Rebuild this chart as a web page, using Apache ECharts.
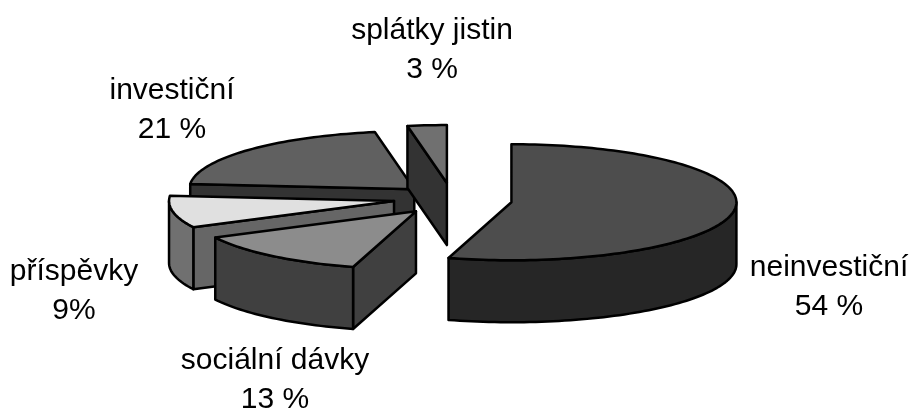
<!DOCTYPE html>
<html>
<head>
<meta charset="utf-8">
<style>html,body{margin:0;padding:0;background:#fff}#c{width:910px;height:408px}</style>
<script src="https://cdn.jsdelivr.net/npm/echarts@6/dist/echarts.min.js"></script>
</head>
<body>
<div id="c"></div>
<script>
const categories = ['neinvestiční', 'sociální dávky', 'příspěvky', 'investiční', 'splátky jistin'];
const values = [54.4, 13, 8.9, 20.7, 2.8];
const valueTexts = ['54 %', '13 %', '9%', '21 %', '3 %'];

const topColors = ['#4d4d4d', '#8c8c8c', '#e0e0e0', '#606060', '#707070'];
const arcColors = ['#262626', '#404040', '#707070', '#404040', '#404040'];
const cutColors = ['#262626', '#404040', '#666666', '#333333', '#333333'];
const drawRank = [5, 4, 3, 1, 2];
const labelAnchors = [[829, 287], [275, 380], [74, 291], [172, 110], [432, 50]];
const sliceNudge = [[2, 0], [1, -1], [-1, -2], [5, 0], [0, -1]];

const CX = 452, CY = 200, RX = 225, RY = 58, DEPTH = 62, EX = 58, EY = 16;
const total = values.reduce((a, b) => a + b, 0);
const rad = d => d * Math.PI / 180;

function renderSlice(params, api) {
  const i = params.dataIndex;
  let before = 0;
  for (let k = 0; k < i; k++) before += values[k];
  const a = before / total * 360;
  const b = a + api.value(0) / total * 360;
  const mid = rad((a + b) / 2);
  const ox = CX + EX * Math.sin(mid) + sliceNudge[i][0], oy = CY - EY * Math.cos(mid) + sliceNudge[i][1];
  const pt = (deg, h) => [ox + RX * Math.sin(rad(deg)), oy - RY * Math.cos(rad(deg)) + (h || 0)];
  const arc = (s, e, h) => {
    const n = Math.max(2, Math.ceil(Math.abs(e - s) / 1.5)), out = [];
    for (let k = 0; k <= n; k++) out.push(pt(s + (e - s) * k / n, h));
    return out;
  };
  const base = { stroke: '#000', lineWidth: 2.5, lineJoin: 'round' };
  const poly = (points, fill, order) => ({
    type: 'polygon', z2: drawRank[i] * 10 + order,
    shape: { points }, style: Object.assign({ fill }, base)
  });
  const children = [];
  const apex = [ox, oy], apexLow = [ox, oy + DEPTH];
  if (Math.sin(rad(b)) > 0.001) {
    children.push(poly([apex, pt(b), pt(b, DEPTH), apexLow], cutColors[i], 1));
  }
  if (Math.sin(rad(a)) < -0.001) {
    children.push(poly([apex, pt(a), pt(a, DEPTH), apexLow], cutColors[i], 1));
  }
  const s = Math.max(a, 90), e = Math.min(b, 270);
  if (e > s) {
    children.push(poly(arc(s, e, 0).concat(arc(e, s, DEPTH)), arcColors[i], 2));
  }
  children.push(poly([apex].concat(arc(a, b, 0)), topColors[i], 3));
  children.push({
    type: 'text', z2: 100,
    style: {
      x: labelAnchors[i][0], y: labelAnchors[i][1],
      text: categories[i] + '\n' + valueTexts[i],
      fill: '#000', font: '30px "Liberation Sans", Arial, sans-serif',
      lineHeight: 39, align: 'center', verticalAlign: 'middle'
    }
  });
  return { type: 'group', children };
}

const chart = echarts.init(document.getElementById('c'), null, { renderer: 'canvas' });
chart.setOption({
  backgroundColor: '#ffffff',
  animation: false,
  series: [{
    type: 'custom',
    coordinateSystem: 'none',
    silent: true,
    renderItem: renderSlice,
    data: values.map((v, i) => ({ name: categories[i], value: [v] }))
  }]
});
</script>
</body>
</html>
